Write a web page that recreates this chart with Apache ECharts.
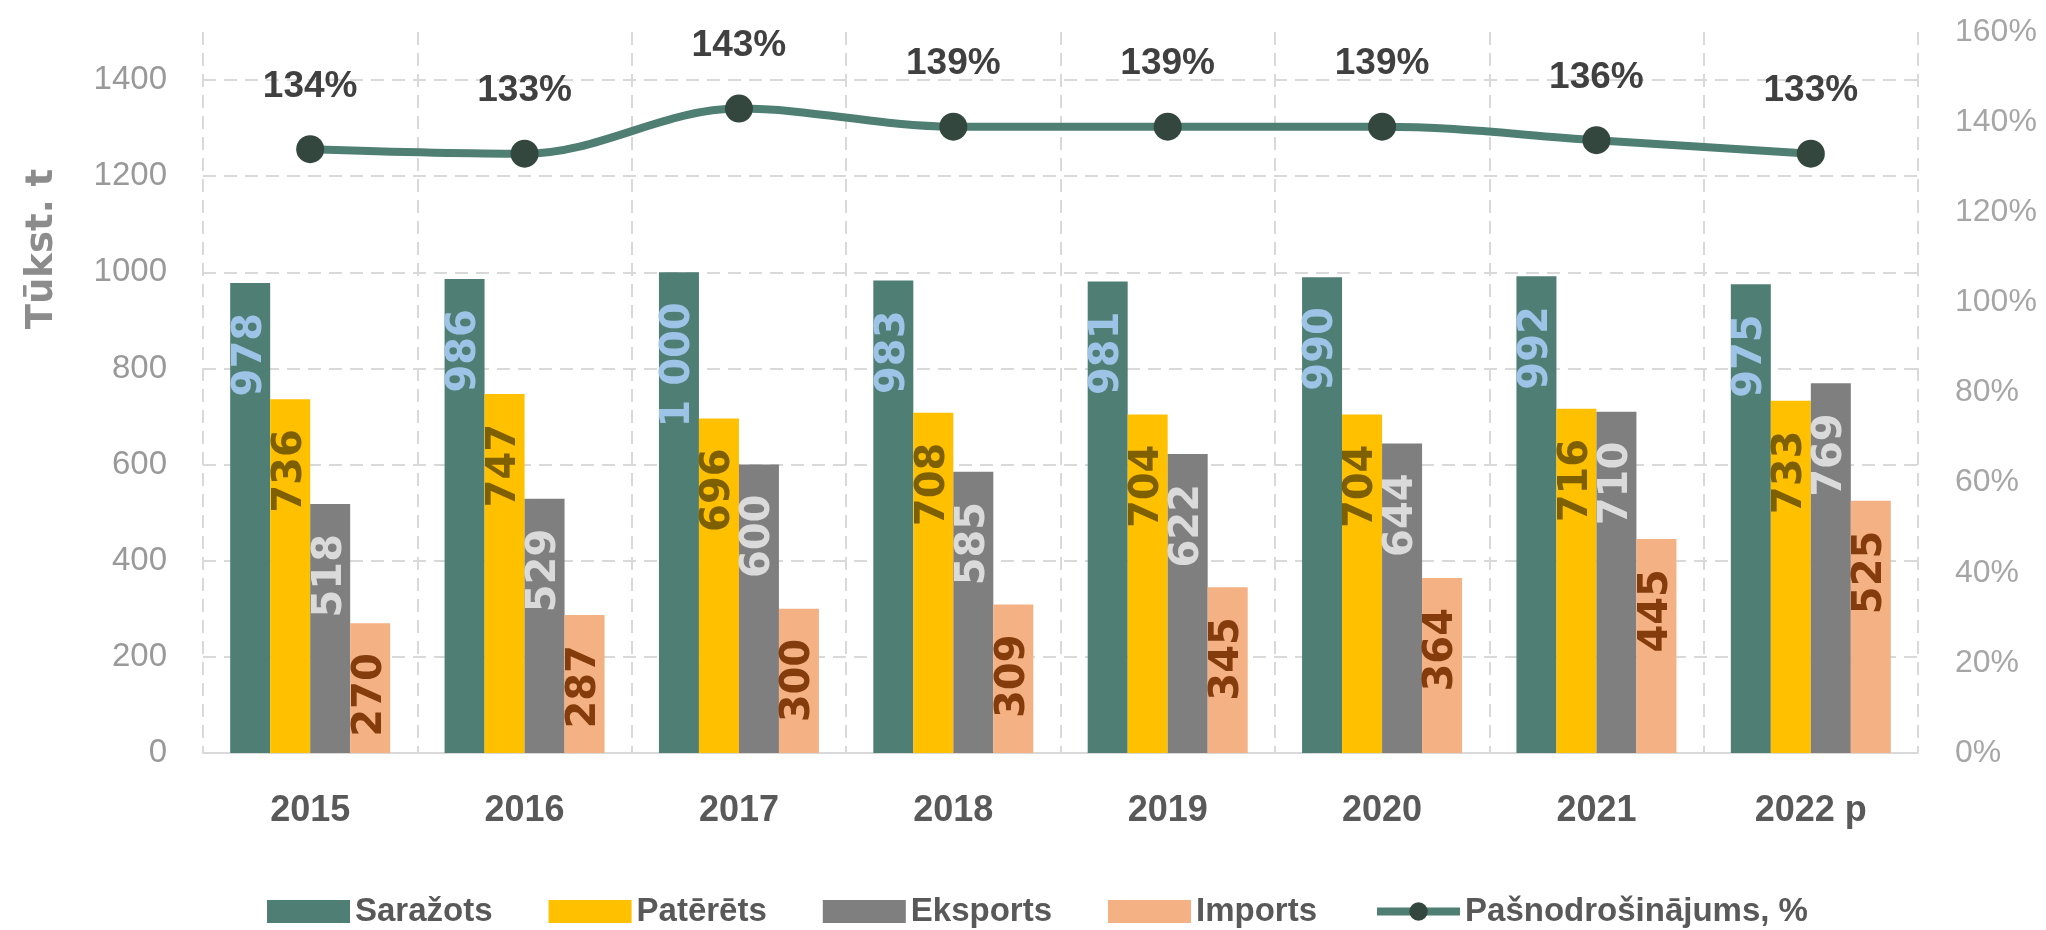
<!DOCTYPE html>
<html>
<head>
<meta charset="utf-8">
<title>Saražots, patērēts, eksports, imports</title>
<script src="https://cdn.jsdelivr.net/npm/echarts@6/dist/echarts.min.js"></script>
<style>
  html, body { margin: 0; padding: 0; background: #ffffff; }
  #chart { width: 2046px; height: 930px; }
</style>
</head>
<body>
<div id="chart"></div>
<script>
// dati (tūkst. t)
const years = ['2015', '2016', '2017', '2018', '2019', '2020', '2021', '2022 p']
const produced = [978, 986, 1000, 983, 981, 990, 992, 975]
const consumed = [736, 747, 696, 708, 704, 704, 716, 733]
const exported = [518, 529, 600, 585, 622, 644, 710, 769]
const imported = [270, 287, 300, 309, 345, 364, 445, 525]
const selfSufficiency = [134, 133, 143, 139, 139, 139, 136, 133]

const FONT = '"Liberation Sans", Arial, sans-serif'
const LABEL_FONT = '"DejaVu Sans", sans-serif'

// 1000 -> "1 000"
const fmtThousands = v => String(v).replace(/\B(?=(\d{3})+(?!\d))/g, ' ')

const dash = { color: '#D9D9D9', width: 2, type: [13, 8] }

const barLabel = color => ({
  show: true,
  position: 'insideTop',
  distance: 30,
  rotate: 90,
  align: 'right',
  verticalAlign: 'middle',
  color,
  fontFamily: LABEL_FONT,
  fontWeight: 'bold',
  fontSize: 40,
  formatter: p => fmtThousands(p.value)
})

const barSeries = (name, data, color, labelColor) => ({
  name,
  type: 'bar',
  data,
  barWidth: 40,
  barGap: '0%',
  itemStyle: { color },
  label: barLabel(labelColor)
})

const chart = echarts.init(document.getElementById('chart'))

const option = {
  animation: false,
  backgroundColor: '#ffffff',
  grid: { left: 203, right: 128, top: 32, bottom: 177 },
  legend: {
    left: 262,
    top: 890,
    itemWidth: 83,
    itemHeight: 23,
    itemGap: 56,
    textStyle: { fontFamily: FONT, fontWeight: 'bold', fontSize: 33, color: '#595959' },
    data: [
      { name: 'Saražots', icon: 'rect' },
      { name: 'Patērēts', icon: 'rect' },
      { name: 'Eksports', icon: 'rect' },
      { name: 'Imports', icon: 'rect' },
      { name: 'Pašnodrošinājums, %', lineStyle: { width: 8 } }
    ]
  },
  graphic: [{
    type: 'text',
    x: 42,
    y: 249,
    rotation: Math.PI / 2,
    style: {
      text: 'Tūkst. t',
      align: 'center',
      verticalAlign: 'middle',
      fontFamily: LABEL_FONT,
      fontWeight: 'bold',
      fontSize: 37,
      fill: '#8C8C8C'
    }
  }],
  xAxis: {
    type: 'category',
    data: years,
    boundaryGap: true,
    axisTick: { show: false },
    axisLine: { lineStyle: { color: '#D9D9D9', width: 2 } },
    splitLine: { show: true, interval: 0, lineStyle: dash },
    axisLabel: {
      interval: 0,
      margin: 40,
      fontFamily: FONT,
      fontWeight: 'bold',
      fontSize: 36,
      color: '#595959'
    }
  },
  yAxis: [
    {
      type: 'value',
      min: 0,
      max: 1500,
      interval: 200,
      axisLine: { show: false },
      axisTick: { show: false },
      splitLine: { show: true, showMaxLine: false, lineStyle: dash },
      axisLabel: {
        showMaxLabel: false,
        margin: 36,
        fontFamily: FONT,
        fontSize: 33,
        color: '#999999',
        formatter: v => String(v)
      }
    },
    {
      type: 'value',
      min: 0,
      max: 160,
      interval: 20,
      position: 'right',
      axisLine: { show: false },
      axisTick: { show: false },
      splitLine: { show: false },
      axisLabel: {
        margin: 37,
        fontFamily: FONT,
        fontSize: 32,
        color: '#A6A6A6',
        formatter: v => v + '%'
      }
    }
  ],
  series: [
    barSeries('Saražots', produced, '#4F7F74', '#9DC3E6'),
    barSeries('Patērēts', consumed, '#FFC000', '#7F6000'),
    barSeries('Eksports', exported, '#7F7F7F', '#DADADA'),
    barSeries('Imports', imported, '#F4B183', '#843C0C'),
    {
      name: 'Pašnodrošinājums, %',
      type: 'line',
      yAxisIndex: 1,
      data: selfSufficiency,
      smooth: 0.35,
      symbol: 'circle',
      symbolSize: 28,
      z: 5,
      lineStyle: { color: '#4F7F72', width: 8 },
      itemStyle: { color: '#34473F' },
      label: {
        show: true,
        position: 'top',
        distance: 30,
        fontFamily: FONT,
        fontWeight: 'bold',
        fontSize: 37,
        color: '#404040',
        formatter: p => p.value + '%'
      }
    }
  ]
}

chart.setOption(option)
</script>
</body>
</html>
